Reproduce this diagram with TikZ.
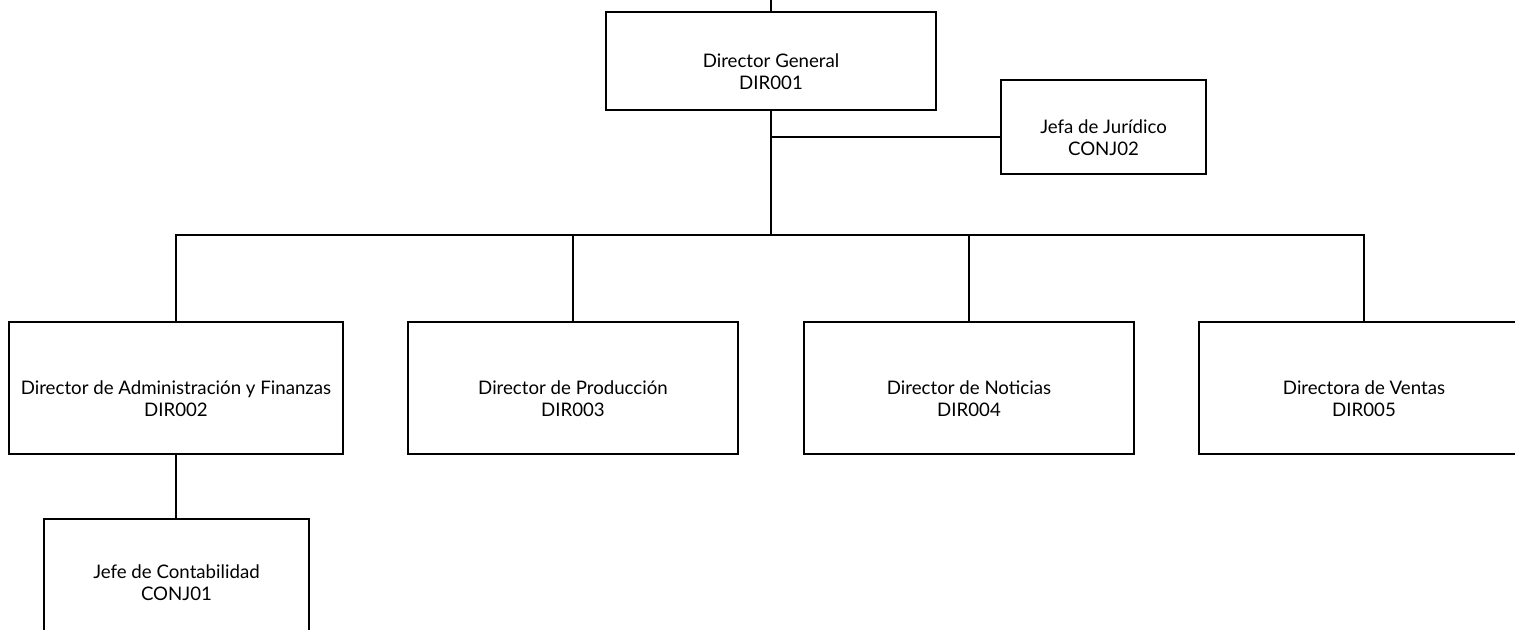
\documentclass[tikz,border=0pt]{standalone}
\usepackage{fontspec}
\setmainfont{Lato}
\newcommand{\cargo}[3][-9.75pt]{\raisebox{#1}[\height][\depth]{\begin{tabular}{@{}c@{}}#2\\#3\end{tabular}}}
\tikzset{every picture/.style={line width=1.1pt}}
\tikzset{
  puesto/.style={draw, rectangle, inner sep=0.75pt, font=\fontsize{14}{16.5}\selectfont},
  ancho/.style={minimum width=247.5pt, minimum height=99pt}
}

\begin{document}
\begin{tikzpicture}[x=0.75pt,y=0.75pt,yscale=-1,xscale=1]
\useasboundingbox (0,0) rectangle (1515,629);
\clip (0,0) rectangle (1515,629);

% Cajas
\node [puesto, minimum width=247.5pt, minimum height=73.5pt] (dg) at (771,61) {\cargo{Director General}{DIR001}};
\node [puesto, minimum width=153.75pt, minimum height=70.5pt] (jur) at (1103.5,127) {\cargo{Jefa de Jurídico}{CONJ02}};
\node [puesto, ancho, minimum width=250.5pt] (dir2) at (176,388) {\cargo{Director de Administración y Finanzas}{DIR002}};
\node [puesto, ancho] (dir3) at (573,388) {\cargo{Director de Producción}{DIR003}};
\node [puesto, ancho] (dir4) at (969,388) {\cargo{Director de Noticias}{DIR004}};
\node [puesto, ancho] (dir5) at (1364,388) {\cargo{Directora de Ventas}{DIR005}};
\node [puesto, minimum width=198.75pt, minimum height=99pt] (cont) at (176.5,585) {\cargo[0pt]{Jefe de Contabilidad}{CONJ01}};

% Puntos de union
\coordinate (arriba) at (771,0);
\coordinate (rama) at (771,137);
\coordinate (bus) at (771,235);

% Conectores
\draw (arriba) -- (dg.north);
\draw (dg.south) -- (bus);
\draw (rama) -- (rama -| jur.west);
\draw (bus) -| (dir2.north);
\draw (bus) -| (dir3.north);
\draw (bus) -| (dir4.north);
\draw (bus) -| (dir5.north);
\draw (dir2.south) -- (dir2.south |- cont.north);

\end{tikzpicture}
\end{document}
